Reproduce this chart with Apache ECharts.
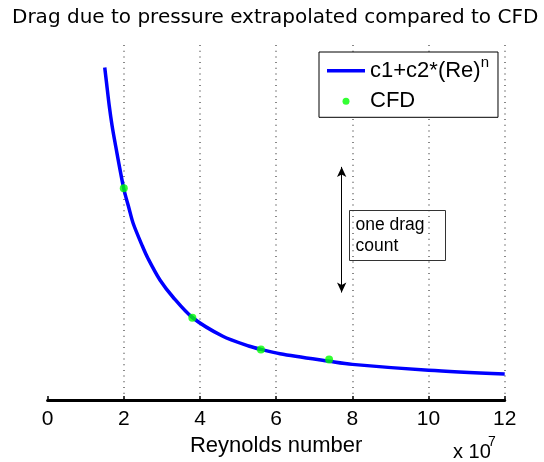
<!DOCTYPE html>
<html>
<head>
<meta charset="utf-8">
<script src="https://cdn.jsdelivr.net/npm/echarts@6/dist/echarts.min.js"></script>
<style>
html,body{margin:0;padding:0;background:#fff;}
#chart{width:544px;height:462px;}
</style>
</head>
<body>
<div id="chart"></div>
<script>
// ---- data ----
// x: Reynolds number (x 10^7); y: drag in drag counts above the axis baseline
const xTickLabels = [0, 2, 4, 6, 8, 10, 12];
const fitName = 'c1+c2*(Re)^n';
const cfdName = 'CFD';
const fitRe   = [1.50, 1.55, 1.62, 1.69, 1.77, 2.00, 2.14, 2.25, 2.49, 2.64, 2.95, 3.30, 3.80, 4.60, 5.30, 5.60, 6.10, 7.40, 8.00, 10.0, 12.0];
const fitDrag = [2.66, 2.53, 2.35, 2.20, 2.06, 1.69, 1.53, 1.41, 1.23, 1.13, 0.96, 0.82, 0.66, 0.51, 0.43, 0.405, 0.37, 0.31, 0.285, 0.238, 0.208];
const cfdRe   = [2.00, 3.80, 5.60, 7.39];
const cfdDrag = [1.694, 0.658, 0.405, 0.325];
const arrowRe = 7.72;          // "one drag count" arrow position
const arrowFrom = 0.86;
const arrowTo = 1.865;         // one drag count above arrowFrom
const yRange = [0, 2.84];

const chart = echarts.init(document.getElementById('chart'), null, {renderer: 'canvas'});

const option = {
  animation: false,
  backgroundColor: '#ffffff',
  title: {
    text: 'Drag due to pressure extrapolated compared to CFD',
    left: 12,
    top: 8,
    padding: 0,
    textStyle: {fontFamily: 'DejaVu Sans', fontSize: 20, fontWeight: 'normal', color: '#000'}
  },
  grid: {left: 47.6, right: 39.3, top: 45, bottom: 62, outerBoundsMode: 'none', containLabel: false},
  xAxis: {
    type: 'value',
    min: xTickLabels[0],
    max: xTickLabels[xTickLabels.length - 1],
    interval: xTickLabels[1] - xTickLabels[0],
    name: 'Reynolds number',
    nameLocation: 'middle',
    nameGap: 33,
    nameTextStyle: {fontFamily: 'Liberation Sans', fontSize: 22, color: '#000'},
    axisLine: {show: true, lineStyle: {color: '#000', width: 3}},
    axisTick: {show: true, inside: true, length: 4, lineStyle: {color: '#000', width: 1.5}},
    axisLabel: {margin: 9, fontFamily: 'Liberation Sans', fontSize: 21, color: '#000'},
    splitLine: {show: true, showMinLine: false, lineStyle: {color: '#888', width: 2, type: [1, 4.7]}}
  },
  yAxis: {
    type: 'value',
    min: yRange[0],
    max: yRange[1],
    show: false,
    splitLine: {show: false}
  },
  legend: {
    orient: 'vertical',
    left: 319,
    top: 52,
    padding: [3.7, 9, 1, 8],
    itemGap: 0.6,
    itemWidth: 38,
    itemHeight: 7,
    backgroundColor: '#fff',
    borderColor: '#000',
    borderWidth: 1,
    borderRadius: 0,
    itemStyle: {borderWidth: 0},
    textStyle: {
      fontFamily: 'Liberation Sans', fontSize: 22, color: '#000', lineHeight: 30,
      rich: {
        a: {fontFamily: 'Liberation Sans', fontSize: 22, color: '#000', lineHeight: 30},
        s: {fontFamily: 'Liberation Sans', fontSize: 15, color: '#000', lineHeight: 8, verticalAlign: 'top'}
      }
    },
    formatter: function (name) {
      if (name === fitName) return '{a|c1+c2*(Re)}{s|n}';
      return '{a|' + name + '}';
    },
    data: [
      {name: fitName, icon: 'path://M0,0H38V3.5H0Z'},
      {name: cfdName, icon: 'circle'}
    ]
  },
  series: [
    {
      name: fitName,
      type: 'line',
      data: fitRe.map((x, i) => [x, fitDrag[i]]),
      smooth: 0.3,
      symbol: 'none',
      lineStyle: {color: '#0000ff', width: 3.5},
      itemStyle: {color: '#0000ff'},
      z: 2
    },
    {
      name: cfdName,
      type: 'scatter',
      data: cfdRe.map((x, i) => [x, cfdDrag[i]]),
      symbol: 'circle',
      symbolSize: 8,
      itemStyle: {color: '#00ff00'},
      z: 3,
      markLine: {
        silent: true,
        symbol: ['arrow', 'arrow'],
        symbolSize: [7, 10],
        label: {show: false},
        lineStyle: {color: '#000', width: 1, type: 'solid'},
        data: [[{coord: [arrowRe, arrowFrom]}, {coord: [arrowRe, arrowTo]}]]
      }
    }
  ],
  graphic: [
    {type: 'rect', shape: {x: 349.5, y: 210.5, width: 96, height: 50},
     style: {fill: 'none', stroke: '#333', lineWidth: 1}, z: 10},
    {type: 'text', x: 355.5, y: 214.8,
     style: {text: 'one drag\ncount', fontFamily: 'Liberation Sans', fontSize: 17.5, fill: '#000', lineHeight: 21, verticalAlign: 'top'}, z: 10},
    {type: 'text', x: 453, y: 442,
     style: {text: 'x 10', fontFamily: 'Liberation Sans', fontSize: 20, fill: '#000', verticalAlign: 'top'}, z: 10},
    {type: 'text', x: 488, y: 435,
     style: {text: '7', fontFamily: 'Liberation Sans', fontSize: 14, fill: '#000', verticalAlign: 'top'}, z: 10}
  ]
};

chart.setOption(option);
</script>
</body>
</html>
